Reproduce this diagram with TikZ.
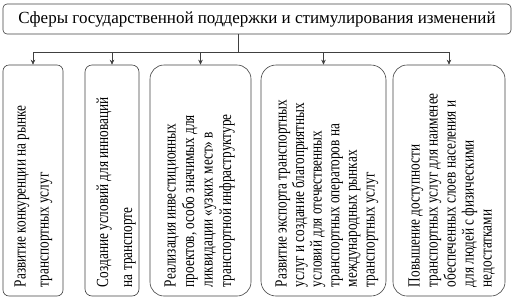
\documentclass[tikz,border=0pt]{standalone}
\usepackage{fontspec}
\setmainfont{Liberation Serif}
\newfontfamily\narrowfont{Liberation Serif}[FakeStretch=0.78]
\usetikzlibrary{positioning, arrows.meta}

\begin{document}
\begin{tikzpicture}[x=1pt, y=-1pt, >={Stealth[length=5pt, width=4.5pt]},
    box/.style={draw=black!75, line width=0.6pt, inner sep=0pt, minimum height=231pt},
    vtext/.style={rotate=90, anchor=north west, align=left, inner sep=0pt}]
  \useasboundingbox (0,0) rectangle (515,301);
  \node[box, rounded corners=4pt, minimum width=508pt, minimum height=30pt,
        font=\fontsize{17}{20}\selectfont] (top) at (257,19)
        {Сферы государственной поддержки и стимулирования изменений};
  \node[box, rounded corners=6pt, minimum width=60pt] (b1) at (33,180.5) {};
  \node[box, rounded corners=7pt, minimum width=54pt] (b2) at (112,180.5) {};
  \node[box, rounded corners=14pt, minimum width=101pt] (b3) at (200.5,180.5) {};
  \node[box, rounded corners=15pt, minimum width=125pt] (b4) at (323.5,180.5) {};
  \node[box, rounded corners=14pt, minimum width=112pt] (b5) at (449,180.5) {};
  \node[vtext, font=\narrowfont\fontsize{17}{23}\selectfont] (t1) at ([xshift=11.5pt, yshift=9pt]b1.south west)
    {Развитие конкуренции на рынке\\транспортных услуг};
  \node[vtext, font=\narrowfont\fontsize{17}{24}\selectfont] (t2) at ([xshift=11.5pt, yshift=9pt]b2.south west)
    {Создание условий для инноваций\\на транспорте};
  \node[vtext, font=\narrowfont\fontsize{17}{18.5}\selectfont] (t3) at ([xshift=14.5pt, yshift=9pt]b3.south west)
    {Реализация инвестиционных\\проектов, особо значимых для\\ликвидации «узких мест» в\\транспортной инфраструктуре};
  \node[vtext, font=\narrowfont\fontsize{17}{17.6}\selectfont] (t4) at ([xshift=14.5pt, yshift=9pt]b4.south west)
    {Развитие экспорта транспортных\\услуг и создание благоприятных\\условий для отечественных\\транспортных операторов на\\международных рынках\\транспортных услуг};
  \node[vtext, font=\narrowfont\fontsize{17}{18}\selectfont] (t5) at ([xshift=15.5pt, yshift=9pt]b5.south west)
    {Повышение доступности\\транспортных услуг для наименее\\обеспеченных слоев населения и\\для людей с физическими\\недостатками};
  \coordinate (trunk) at (238,52);
  \draw[black!75, line width=0.6pt] (top.south -| trunk) -- (trunk);
  \draw[black!75, line width=0.6pt] (b1.north |- trunk) -- (b5.north |- trunk);
  \foreach \b in {b1,b2,b3,b4,b5}
    \draw[->, black!75, line width=0.6pt] (\b.north |- trunk) -- (\b.north);
\end{tikzpicture}
\end{document}
